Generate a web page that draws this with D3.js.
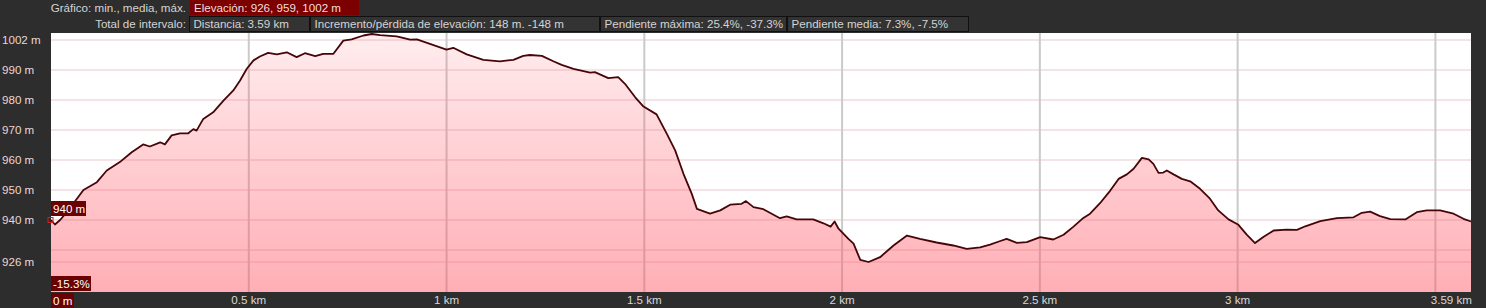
<!DOCTYPE html>
<html>
<head>
<meta charset="utf-8">
<script src="https://cdn.jsdelivr.net/npm/d3@7"></script>
<style>
  body { margin: 0; background: #2d2d2d; }
  svg { display: block; }
  text { font-family: "Liberation Sans", Arial, sans-serif; font-size: 11.6px; }
</style>
</head>
<body>
<div id="vizArea"></div>
<script>
// distance (km) and elevation (m)
const distKm = [0.000, 0.010, 0.023, 0.040, 0.065, 0.082, 0.116, 0.141, 0.174, 0.204, 0.233, 0.250, 0.276, 0.288, 0.305, 0.326, 0.347, 0.360, 0.368, 0.385,
    0.410, 0.436, 0.461, 0.478, 0.495, 0.512, 0.528, 0.549, 0.571, 0.596, 0.621, 0.642, 0.668, 0.688, 0.714, 0.739, 0.760, 0.790, 0.811, 0.832,
    0.874, 0.908, 0.925, 0.958, 1.000, 1.017, 1.051, 1.093, 1.135, 1.169, 1.194, 1.211, 1.241, 1.270, 1.291, 1.321, 1.363, 1.375, 1.409, 1.434,
    1.451, 1.477, 1.498, 1.531, 1.557, 1.578, 1.599, 1.620, 1.633, 1.666, 1.692, 1.717, 1.746, 1.757, 1.776, 1.801, 1.843, 1.860, 1.885, 1.927,
    1.953, 1.971, 1.981, 1.991, 2.016, 2.029, 2.046, 2.067, 2.096, 2.130, 2.164, 2.197, 2.239, 2.281, 2.315, 2.349, 2.374, 2.400, 2.416, 2.442,
    2.467, 2.501, 2.534, 2.560, 2.585, 2.610, 2.627, 2.652, 2.678, 2.699, 2.720, 2.737, 2.758, 2.775, 2.787, 2.800, 2.812, 2.821, 2.838, 2.859,
    2.880, 2.905, 2.930, 2.951, 2.977, 3.002, 3.023, 3.044, 3.065, 3.091, 3.124, 3.150, 3.171, 3.209, 3.251, 3.293, 3.314, 3.335, 3.360, 3.386,
    3.424, 3.453, 3.478, 3.512, 3.546, 3.571, 3.590]
const elevM = [940.0, 938.5, 940.0, 942.6, 947.0, 950.0, 952.6, 956.5, 959.3, 962.6, 965.2, 964.5, 965.9, 965.2, 968.2, 968.9, 968.9, 970.3, 969.8, 973.7,
    975.9, 979.8, 983.2, 986.5, 990.4, 993.2, 994.5, 995.7, 995.2, 995.9, 994.3, 995.6, 994.6, 995.4, 995.4, 999.8, 1000.2, 1001.5, 1002.0, 1001.6,
    1001.2, 1000.1, 1000.2, 998.7, 996.8, 997.4, 995.2, 993.4, 992.9, 993.4, 994.7, 995.0, 994.7, 992.9, 991.7, 990.4, 989.1, 989.3, 987.3, 987.6,
    985.4, 980.9, 977.8, 975.2, 968.7, 963.2, 955.4, 948.7, 943.7, 942.1, 943.2, 945.1, 945.4, 946.3, 944.3, 943.6, 940.6, 941.2, 940.2, 940.2,
    938.9, 937.8, 939.5, 937.1, 933.7, 932.1, 926.7, 926.0, 927.6, 931.5, 934.8, 933.7, 932.5, 931.5, 930.4, 930.9, 931.8, 933.0, 933.7, 932.4,
    932.6, 934.3, 933.5, 935.1, 937.8, 940.7, 942.1, 945.6, 949.8, 953.7, 955.2, 957.1, 960.7, 960.2, 958.7, 955.7, 955.8, 956.5, 955.2, 953.7,
    952.9, 950.4, 947.1, 943.2, 940.2, 938.4, 935.1, 932.3, 934.3, 936.5, 936.8, 936.7, 937.9, 939.6, 940.6, 940.9, 942.4, 942.8, 941.3, 940.3,
    940.2, 942.6, 943.2, 943.2, 942.1, 940.4, 939.5]

const yGrid = [930, 940, 950, 960, 970, 980, 990, 1000]
const yLabels = [926, 940, 950, 960, 970, 980, 990, 1002]
const xGrid = [0.5, 1, 1.5, 2, 2.5, 3, 3.5]
const xLabels = [0.5, 1, 1.5, 2, 2.5, 3]
const totalKm = 3.59
const minElev = 926, maxElev = 1002

const row1 = ["Elevación: 926, 959, 1002 m"]
const row2 = ["Distancia: 3.59 km", "Incremento/pérdida de elevación: 148 m. -148 m", "Pendiente máxima: 25.4%, -37.3%", "Pendiente media: 7.3%, -7.5%"]
const row2Widths = [120, 289, 186, 181]

const data = distKm.map((d, i) => ({km: d, m: elevM[i]}))

const W = 1486, H = 308
const plot = {left: 51, right: 1471, top: 33, bottom: 292}

const svg = d3.select("#vizArea").append("svg")
    .attr("width", W)
    .attr("height", H)

const x = d3.scaleLinear().domain([0, totalKm]).range([plot.left, plot.right])
const y = d3.scaleLinear().domain([916, 1002.33]).range([plot.bottom, plot.top])

// gradient for the area
const grad = svg.append("defs").append("linearGradient")
    .attr("id", "fillGrad")
    .attr("gradientUnits", "userSpaceOnUse")
    .attr("x1", 0).attr("x2", 0)
    .attr("y1", plot.top).attr("y2", plot.bottom)
grad.append("stop").attr("offset", "0%").attr("stop-color", "rgb(255,80,95)").attr("stop-opacity", 0.1)
grad.append("stop").attr("offset", "100%").attr("stop-color", "rgb(255,80,95)").attr("stop-opacity", 0.46)

svg.append("rect")
    .attr("x", plot.left).attr("y", plot.top)
    .attr("width", plot.right - plot.left).attr("height", plot.bottom - plot.top)
    .attr("fill", "#fff")

// grid
svg.append("g").selectAll("line")
    .data(yGrid.concat([minElev]))
    .enter().append("line")
    .attr("x1", plot.left).attr("x2", plot.right)
    .attr("y1", d => y(d)).attr("y2", d => y(d))
    .attr("stroke", "#f5e3e5")
    .attr("stroke-width", 2)

svg.append("g").selectAll("line")
    .data(xGrid)
    .enter().append("line")
    .attr("x1", d => x(d)).attr("x2", d => x(d))
    .attr("y1", plot.top).attr("y2", plot.bottom)
    .attr("stroke", "#cacaca")
    .attr("stroke-width", 2)

// profile
const area = d3.area().x(d => x(d.km)).y0(plot.bottom).y1(d => y(d.m))
const line = d3.line().x(d => x(d.km)).y(d => y(d.m))

svg.append("path")
    .datum(data)
    .attr("d", area)
    .attr("fill", "url(#fillGrad)")

svg.append("path")
    .datum(data)
    .attr("d", line)
    .attr("fill", "none")
    .attr("stroke", "#470508")
    .attr("stroke-width", 1.8)
    .attr("stroke-linejoin", "round")

// y labels
svg.append("g").selectAll("text")
    .data(yLabels)
    .enter().append("text")
    .attr("x", 2)
    .attr("y", d => Math.max(y(d), 40))
    .attr("dy", "0.35em")
    .attr("fill", "#ead6d6")
    .text(d => d + " m")

// x labels
svg.append("g").selectAll("text")
    .data(xLabels)
    .enter().append("text")
    .attr("x", d => x(d))
    .attr("y", 300)
    .attr("dy", "0.35em")
    .attr("text-anchor", "middle")
    .attr("fill", "#d8d8d8")
    .text(d => d + " km")

svg.append("text")
    .attr("x", x(totalKm) + 1)
    .attr("y", 300)
    .attr("dy", "0.35em")
    .attr("text-anchor", "end")
    .attr("fill", "#d8d8d8")
    .text(totalKm + " km")

// header rows
svg.append("text").attr("x", 186).attr("y", 8).attr("dy", "0.35em")
    .attr("text-anchor", "end").attr("fill", "#d4d4d4").text("Gráfico: min., media, máx.")
svg.append("text").attr("x", 186).attr("y", 24).attr("dy", "0.35em")
    .attr("text-anchor", "end").attr("fill", "#d4d4d4").text("Total de intervalo:")

svg.append("rect").attr("x", 190).attr("y", 0).attr("width", 169).attr("height", 15).attr("fill", "#7d0000")
svg.append("text").attr("x", 194).attr("y", 8).attr("dy", "0.35em").attr("fill", "#f0dede").text(row1[0])

let bx = 189.5
const boxes = svg.append("g")
row2.forEach((t, i) => {
    boxes.append("rect")
        .attr("x", bx).attr("y", 16.5)
        .attr("width", row2Widths[i]).attr("height", 15)
        .attr("fill", "#333").attr("stroke", "#111")
    boxes.append("text")
        .attr("x", bx + 4).attr("y", 24).attr("dy", "0.35em")
        .attr("fill", "#d4d4d4").text(t)
    bx += row2Widths[i] + 1
})

// start marker and tags
const first = data[0]
svg.append("rect")
    .attr("x", x(first.km) - 3).attr("y", y(first.m) - 2.5)
    .attr("width", 5).attr("height", 5)
    .attr("fill", "none").attr("stroke", "#d02020").attr("stroke-width", 1)

function tag(tx, ty, w, label) {
    svg.append("rect").attr("x", tx).attr("y", ty).attr("width", w).attr("height", 15).attr("fill", "#6a0202")
    svg.append("text").attr("x", tx + 2).attr("y", ty + 7.5).attr("dy", "0.35em").attr("fill", "#fff").text(label)
}
tag(plot.left, 201, 35, first.m + " m")
tag(plot.left, 276, 40, "-15.3%")
tag(plot.left, 293, 23, "0 m")
</script>
</body>
</html>
